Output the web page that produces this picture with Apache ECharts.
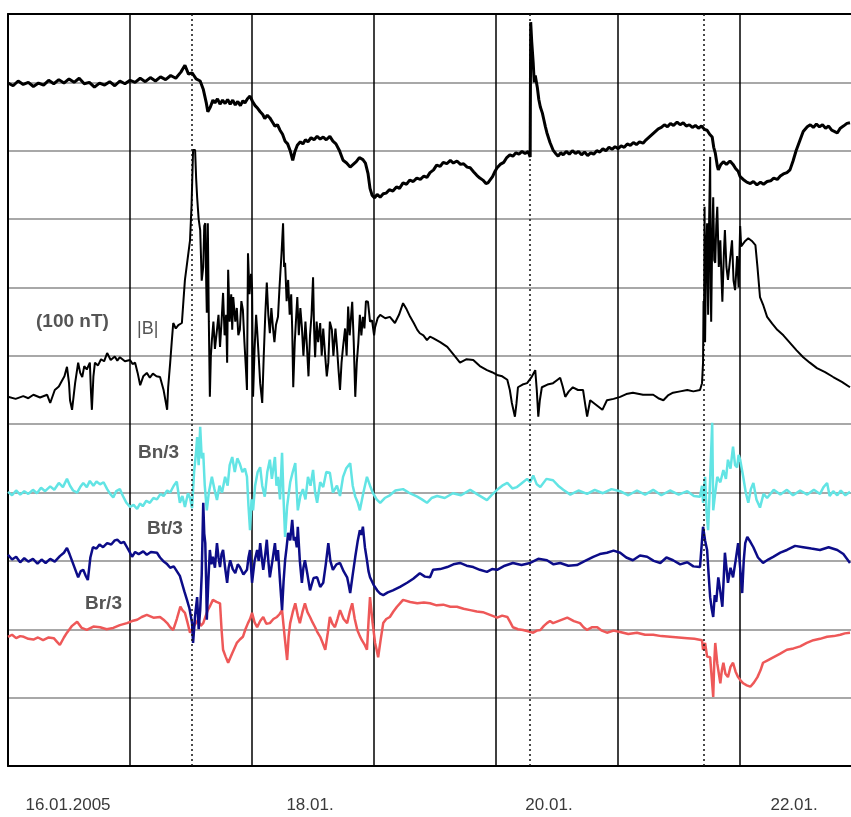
<!DOCTYPE html>
<html>
<head>
<meta charset="utf-8">
<script src="https://cdn.jsdelivr.net/npm/echarts@6/dist/echarts.min.js"></script>
<style>
html,body{margin:0;padding:0;background:#fff;}
#chart{width:851px;height:817px;}
</style>
</head>
<body>
<div id="chart"></div>
<script>
// x: hours since 16.01.2005 00:00 ; y: grid divisions (0 = bottom frame, 11 = top frame)
const dayLabels = ['16.01.2005', '18.01.', '20.01.', '22.01.'];
const dayLabelHours = [11.8, 59.4, 106.4, 154.6];
const eventHours = [36.2, 102.7, 136.9];

const topTrace = [[0,9.99],[1,9.95],[2,10.02],[3,9.97],[4,10.0],[5,9.94],[6,9.99],[7,9.96],[8,10.03],[9,9.98],[10,10.04],[11,9.99],[12,10.05],[13,10.0],[14,10.06],[15,9.98],[16,10.0],[17,9.93],[18,9.99],[19,9.96],[20,10.01],[21,9.95],[22,10.02],[23,9.98],[24,10.03],[25,10.0],[26,10.06],[27,10.01],[28,10.07],[29,10.02],[30,10.08],[31,10.04],[32,10.1],[33,10.06],[34,10.15],[34.8,10.25],[35.5,10.12],[36.2,10.14],[37,10.05],[37.8,10.02],[38.4,9.9],[39.0,9.7],[39.3,9.57],[39.8,9.64],[40.3,9.74],[40.7,9.7],[41.2,9.76],[41.7,9.68],[42.2,9.74],[42.7,9.69],[43.2,9.75],[43.7,9.68],[44.2,9.74],[44.7,9.67],[45.2,9.72],[45.7,9.66],[46.2,9.73],[46.6,9.70],[47.1,9.76],[47.6,9.80],[48.1,9.72],[48.6,9.66],[49.1,9.62],[49.6,9.57],[50.1,9.53],[50.5,9.47],[51.0,9.52],[51.5,9.48],[52.0,9.42],[52.5,9.36],[53.0,9.38],[53.5,9.3],[54.0,9.24],[54.5,9.14],[55.0,9.1],[55.5,9.0],[56.0,8.86],[56.4,8.98],[56.9,9.08],[57.5,9.13],[58,9.1],[58.5,9.16],[59,9.13],[59.6,9.19],[60.2,9.16],[60.8,9.21],[61.4,9.17],[62,9.2],[62.6,9.16],[63.3,9.21],[63.9,9.14],[64.5,9.1],[65.2,9.0],[65.9,8.86],[66.6,8.82],[67.3,8.76],[67.9,8.8],[68.5,8.84],[69.1,8.9],[69.8,8.87],[70.3,8.82],[70.8,8.67],[71.2,8.45],[71.6,8.35],[72.1,8.31],[72.6,8.36],[73.2,8.32],[73.8,8.37],[74.4,8.38],[75,8.43],[75.7,8.41],[76.4,8.47],[77,8.45],[77.7,8.53],[78.4,8.51],[79,8.57],[79.7,8.55],[80.4,8.6],[81.1,8.58],[81.8,8.63],[82.4,8.61],[83,8.68],[83.7,8.72],[84.3,8.79],[85,8.77],[85.6,8.83],[86.3,8.81],[87,8.86],[87.6,8.82],[88.3,8.85],[89,8.8],[89.6,8.81],[90.3,8.76],[90.9,8.75],[91.6,8.69],[92.2,8.64],[92.8,8.6],[93.4,8.57],[94,8.52],[94.4,8.53],[94.9,8.58],[95.3,8.62],[95.8,8.7],[96.2,8.75],[96.8,8.8],[97.5,8.83],[98.1,8.9],[98.7,8.94],[99.3,8.92],[99.9,8.97],[100.5,8.95],[101.1,8.99],[101.7,8.96],[102.3,8.99],[102.7,8.91],[102.8,10.88],[103.0,10.6],[103.3,10.28],[103.5,10.0],[103.7,10.1],[104.1,9.93],[104.4,9.75],[104.7,9.64],[105.1,9.55],[105.4,9.45],[105.7,9.35],[106.0,9.26],[106.6,9.12],[107.2,9.01],[107.7,8.96],[108.2,8.92],[108.7,8.97],[109.2,8.94],[109.8,8.99],[110.4,8.95],[111,9.0],[111.6,8.96],[112.2,8.99],[112.8,8.94],[113.4,8.98],[114,8.93],[114.6,8.97],[115.2,8.95],[115.8,9.0],[116.4,8.98],[117,9.03],[117.6,9.0],[118.2,9.05],[118.8,9.02],[119.4,9.06],[120,9.03],[120.6,9.07],[121.2,9.05],[121.8,9.1],[122.4,9.08],[123,9.12],[123.6,9.09],[124.2,9.13],[124.9,9.11],[125.5,9.16],[126.1,9.2],[126.7,9.24],[127.3,9.28],[127.9,9.32],[128.5,9.34],[129.1,9.38],[129.7,9.35],[130.3,9.4],[130.9,9.37],[131.6,9.42],[132.2,9.38],[132.8,9.41],[133.4,9.36],[134,9.38],[134.6,9.34],[135.2,9.37],[135.8,9.33],[136.4,9.36],[137,9.31],[137.5,9.3],[138,9.24],[138.5,9.2],[138.8,9.05],[139.1,8.97],[139.5,8.78],[139.7,8.72],[140.2,8.8],[140.7,8.84],[141.3,8.8],[142,8.85],[142.6,8.8],[143.1,8.74],[143.6,8.7],[144,8.62],[144.6,8.58],[145.3,8.54],[146,8.52],[146.6,8.55],[147.3,8.5],[148,8.54],[148.6,8.51],[149.3,8.55],[150,8.56],[150.6,8.6],[151.3,8.58],[151.9,8.63],[152.5,8.66],[153.2,8.68],[153.8,8.72],[154.4,8.85],[155,9.0],[155.8,9.16],[156.4,9.28],[157.2,9.35],[157.8,9.38],[158.4,9.34],[159,9.39],[159.6,9.35],[160.2,9.38],[160.8,9.33],[161.4,9.36],[162,9.3],[162.6,9.28],[163.1,9.26],[163.7,9.33],[164.3,9.36],[165,9.4],[165.6,9.41]];

const bMag = [[0,5.40],[1.5,5.37],[3,5.41],[4,5.38],[5,5.43],[6.3,5.39],[7.7,5.43],[8.3,5.31],[9.2,5.50],[10.0,5.55],[10.5,5.62],[11.1,5.7],[11.6,5.84],[12.0,5.6],[12.2,5.35],[12.6,5.21],[13.2,5.6],[13.8,5.90],[14.2,5.75],[14.6,5.69],[15.0,5.85],[15.5,5.8],[16.1,5.90],[16.3,5.5],[16.5,5.21],[16.8,5.7],[17.1,5.90],[17.7,5.86],[18.3,5.95],[18.9,5.92],[19.5,6.04],[20.2,5.94],[21,5.99],[21.5,5.93],[22.0,5.98],[23,5.92],[24.0,5.94],[24.5,5.88],[25.0,5.90],[25.5,5.75],[26.0,5.57],[26.6,5.7],[27.3,5.75],[27.9,5.68],[28.5,5.74],[29.2,5.7],[29.9,5.69],[30.6,5.5],[31.3,5.21],[31.5,5.54],[31.9,5.90],[32.2,6.2],[32.5,6.48],[33.0,6.4],[33.5,6.45],[34.2,6.48],[34.5,6.8],[34.8,7.11],[35.3,7.4],[35.8,7.69],[36.1,8.2],[36.4,9.01],[36.8,9.01],[37.0,8.6],[37.2,8.32],[37.5,8.0],[37.8,7.84],[38.1,7.1],[38.4,7.30],[38.6,7.9],[38.8,7.94],[39.0,7.0],[39.1,6.63],[39.3,7.94],[39.5,6.5],[39.7,5.40],[39.9,6.0],[40.1,6.23],[40.4,6.5],[40.7,6.1],[41.1,6.38],[41.4,6.6],[41.7,6.13],[42.0,6.5],[42.3,6.92],[42.6,6.3],[42.9,6.6],[43.1,5.90],[43.3,7.26],[43.6,6.5],[43.9,6.9],[44.1,6.38],[44.3,6.86],[44.7,6.5],[45.0,6.7],[45.3,6.3],[45.6,6.38],[45.9,6.8],[46.2,6.67],[46.5,6.2],[46.8,5.8],[47.0,5.50],[47.2,7.50],[47.5,6.9],[47.8,7.2],[48.0,7.01],[48.2,5.40],[48.5,6.1],[48.8,6.6],[49.0,6.38],[49.3,6.0],[49.6,5.6],[50.0,5.31],[50.3,6.0],[50.6,6.6],[50.9,7.07],[51.2,6.6],[51.5,6.33],[51.8,6.7],[52.1,6.42],[52.4,6.2],[52.7,6.45],[53.1,6.57],[53.4,7.0],[53.8,7.5],[54.1,7.94],[54.3,7.3],[54.5,7.36],[54.8,6.8],[55.1,7.11],[55.4,6.6],[55.7,6.9],[55.9,6.38],[56.1,5.54],[56.4,6.2],[56.7,6.6],[56.9,6.86],[57.2,6.3],[57.5,6.7],[57.8,6.42],[58.1,6.0],[58.5,6.5],[58.8,6.13],[59.1,5.7],[59.4,6.3],[59.7,6.6],[60.0,7.15],[60.2,6.4],[60.4,5.98],[60.7,6.5],[61.0,6.2],[61.4,6.48],[61.7,6.0],[62.0,6.4],[62.4,5.98],[62.7,5.7],[63.0,5.90],[63.3,6.5],[63.7,6.38],[64.0,6.0],[64.4,6.4],[64.7,6.13],[65.0,5.8],[65.3,5.50],[65.6,5.9],[65.9,6.13],[66.3,6.4],[66.6,6.0],[66.9,6.72],[67.2,6.3],[67.5,6.6],[67.7,6.79],[68.0,6.2],[68.3,5.40],[68.6,5.9],[68.9,6.19],[69.2,6.6],[69.5,6.3],[69.8,6.57],[70.1,6.4],[70.4,6.8],[70.8,6.79],[71.2,6.5],[71.6,6.52],[72.0,6.3],[72.2,6.42],[72.7,6.55],[73.2,6.60],[74.2,6.55],[75.1,6.57],[76.1,6.48],[76.9,6.6],[77.7,6.77],[78.4,6.68],[79.1,6.57],[79.8,6.48],[80.5,6.38],[81.0,6.33],[81.7,6.3],[82.4,6.23],[83.0,6.28],[83.6,6.26],[85,6.2],[86.4,6.13],[87.6,6.02],[88.9,5.90],[90.2,5.95],[91.5,5.94],[92.8,5.85],[94.2,5.79],[95.2,5.76],[96.2,5.72],[97.2,5.7],[98.2,5.65],[98.7,5.5],[99.1,5.31],[99.7,5.11],[100.0,5.3],[100.3,5.54],[101.2,5.58],[102.1,5.60],[102.9,5.68],[103.7,5.79],[104.0,5.5],[104.3,5.11],[104.6,5.35],[105.0,5.54],[106.1,5.58],[107.2,5.60],[107.9,5.64],[108.6,5.68],[109.1,5.55],[109.6,5.40],[110.3,5.48],[111.1,5.54],[112.1,5.5],[113.1,5.50],[113.5,5.3],[113.9,5.11],[114.5,5.35],[115.7,5.28],[116.9,5.21],[117.8,5.35],[119.1,5.37],[120.4,5.40],[121.6,5.44],[122.9,5.46],[124.9,5.43],[126.9,5.43],[127.9,5.38],[128.9,5.35],[129.8,5.42],[130.8,5.46],[132.2,5.48],[133.6,5.50],[134.8,5.48],[136.1,5.50],[136.5,5.6],[136.7,5.90],[136.8,6.8],[136.9,6.52],[137.0,8.18],[137.1,6.2],[137.3,7.5],[137.5,7.94],[137.7,6.6],[137.9,8.0],[138.1,8.91],[138.2,7.0],[138.3,6.5],[138.5,7.7],[138.7,8.32],[138.9,7.4],[139.1,7.36],[139.3,7.9],[139.5,8.18],[139.8,7.3],[140.1,7.69],[140.3,7.2],[140.5,6.79],[140.8,7.5],[141.0,7.84],[141.3,7.3],[141.6,7.11],[142.0,7.4],[142.4,7.69],[142.7,7.1],[143.0,6.96],[143.2,7.2],[143.4,7.46],[143.7,7.0],[144.0,7.9],[144.2,7.6],[144.4,7.59],[145.0,7.68],[145.6,7.72],[146.3,7.68],[147.0,7.62],[147.4,7.3],[147.9,6.86],[148.5,6.75],[149.3,6.57],[150.3,6.47],[151.3,6.38],[152.5,6.3],[153.8,6.19],[155.1,6.08],[156.4,5.98],[157.7,5.9],[159.1,5.82],[160.7,5.76],[162.3,5.69],[164,5.62],[165.6,5.54]];

const bn3 = [[0,4.01],[0.8,3.96],[1.6,4.03],[2.4,3.97],[3.2,4.02],[4,3.98],[4.9,4.04],[5.7,3.99],[6.5,4.07],[7.3,4.02],[8.3,4.09],[9.1,4.04],[10,4.14],[10.8,4.08],[11.6,4.2],[12.2,4.1],[12.8,4.03],[13.6,4.0],[14.2,4.08],[14.8,4.14],[15.5,4.08],[16.1,4.17],[16.8,4.1],[17.4,4.16],[18.1,4.12],[18.8,4.15],[19.5,4.05],[20.1,3.98],[20.7,3.93],[21.3,4.02],[22.0,4.05],[22.6,3.95],[23.3,3.85],[24.0,3.79],[24.7,3.82],[25.4,3.76],[26.0,3.84],[26.5,3.8],[27.2,3.88],[27.9,3.85],[28.6,3.92],[29.3,3.9],[30,3.98],[30.6,3.95],[31.3,4.03],[31.9,4.0],[32.6,4.1],[33.2,4.16],[33.6,3.95],[33.8,3.85],[34.3,3.95],[34.8,3.79],[35.4,3.99],[35.8,3.92],[36.2,3.77],[36.6,4.3],[37.0,4.6],[37.2,4.81],[37.5,4.4],[37.8,4.96],[38.1,4.5],[38.4,4.58],[38.7,4.1],[39.1,3.74],[39.5,4.0],[40.1,4.23],[40.6,4.05],[41.1,3.89],[41.6,4.1],[42.1,4.0],[42.7,4.23],[43.2,4.1],[43.6,4.4],[44.1,4.52],[44.6,4.3],[45.1,4.5],[45.6,4.42],[46.1,4.3],[46.6,4.35],[47.0,4.23],[47.3,3.8],[47.6,3.45],[47.9,3.9],[48.2,3.74],[48.6,4.1],[49.1,4.3],[49.6,4.37],[50.0,4.1],[50.5,3.94],[51.0,4.3],[51.5,4.48],[51.9,4.2],[52.5,4.52],[52.8,4.1],[53.1,4.23],[53.5,3.9],[53.9,4.58],[54.2,3.9],[54.5,3.35],[54.9,3.8],[55.5,4.15],[56.0,4.3],[56.5,4.43],[56.8,4.0],[57.0,3.74],[57.5,3.95],[58.0,4.05],[58.5,3.9],[59.0,4.23],[59.5,4.1],[60.0,4.33],[60.4,4.0],[60.8,3.85],[61.4,4.15],[62.0,4.08],[62.6,4.3],[63.3,4.29],[63.9,4.0],[64.7,4.1],[65.3,3.95],[65.9,4.23],[66.5,4.35],[67.3,4.43],[67.8,4.1],[68.3,3.94],[68.8,3.85],[69.2,3.74],[69.9,4.0],[70.6,4.23],[71.2,4.1],[71.8,3.99],[72.5,3.9],[73.2,3.85],[74.1,3.92],[75.1,3.96],[76.2,4.03],[77.7,4.05],[78.8,4.0],[80.5,3.94],[81.4,3.9],[82.4,3.85],[83.3,3.92],[84.4,3.95],[85.9,3.92],[87.5,3.99],[89.1,3.96],[90.9,4.04],[92.4,3.97],[94.2,3.89],[95.2,3.97],[96.2,4.04],[97.2,4.1],[98.2,4.14],[99.2,4.06],[100.1,4.08],[101.1,4.14],[102.1,4.2],[102.7,4.15],[103.3,4.25],[104.0,4.12],[104.7,4.08],[105.9,4.2],[107.2,4.18],[108.2,4.1],[109.2,4.04],[110.6,3.97],[112.2,4.03],[113.9,3.98],[115.4,4.04],[117.0,3.99],[118.7,4.05],[120.4,4.02],[122,3.96],[123.7,4.03],[125.3,3.97],[126.9,4.04],[128.5,3.96],[130.2,4.03],[131.9,3.97],[133.6,4.02],[134.9,3.95],[136.1,3.94],[136.5,4.1],[136.7,3.85],[137.1,4.23],[137.4,3.7],[137.7,3.45],[138.1,4.2],[138.5,5.02],[138.7,3.74],[139.1,4.0],[139.5,4.23],[140.1,4.15],[140.7,4.33],[141.2,4.2],[141.6,4.48],[142.1,4.35],[142.6,4.67],[143.0,4.4],[143.4,4.37],[143.7,4.55],[144.0,4.48],[144.6,4.23],[145.1,4.0],[145.6,3.85],[146.1,4.05],[146.6,4.14],[147.2,3.9],[147.9,3.78],[148.6,3.98],[149.3,3.92],[150.6,4.04],[151.9,3.97],[153.2,4.04],[154.4,3.96],[155.8,4.03],[157.2,3.97],[158.5,4.04],[159.7,3.98],[160.4,4.08],[161.1,4.14],[161.6,3.95],[162.3,4.02],[163.1,3.96],[163.8,4.03],[164.7,3.96],[165.6,4.01]];

const bt3 = [[0,3.09],[0.8,3.02],[1.6,3.06],[2.4,2.98],[3.2,3.04],[4,2.99],[4.9,3.03],[5.8,2.96],[6.6,3.02],[7.4,2.97],[8.3,3.03],[9.2,2.99],[10.2,3.07],[11.0,3.12],[11.6,3.19],[12.1,3.1],[12.6,3.0],[13.2,2.88],[13.8,2.76],[14.3,2.85],[14.8,2.87],[15.3,2.78],[15.7,2.72],[16.2,3.05],[16.7,3.20],[17.4,3.18],[18,3.24],[18.7,3.2],[19.5,3.26],[20.3,3.24],[21,3.3],[21.5,3.31],[22.2,3.26],[22.8,3.28],[23.4,3.2],[24.0,3.12],[24.4,3.06],[25,3.13],[25.7,3.1],[26.6,3.14],[27.3,3.09],[28.1,3.13],[29.3,3.12],[29.9,3.05],[30.5,3.0],[31.2,2.96],[31.9,2.9],[32.6,2.92],[33.2,2.85],[33.8,2.78],[34.2,2.68],[34.7,2.55],[35.2,2.43],[35.7,2.3],[36.2,2.09],[36.4,1.80],[36.8,2.2],[37.2,2.47],[37.5,2.0],[37.8,2.28],[38.1,2.8],[38.4,3.85],[38.6,3.4],[38.8,3.26],[39.0,2.6],[39.1,2.14],[39.4,2.7],[39.7,3.16],[40.0,2.95],[40.3,3.06],[40.7,2.9],[41.1,3.26],[41.4,3.05],[41.7,2.91],[42.0,3.1],[42.3,3.16],[42.7,2.9],[43.1,2.68],[43.4,2.9],[43.7,3.01],[44.2,2.88],[44.7,2.82],[45.2,2.95],[45.6,2.91],[46.3,2.8],[47.0,2.87],[47.3,3.05],[47.6,3.16],[47.8,2.9],[48.0,2.68],[48.5,3.0],[49.0,3.16],[49.3,3.0],[49.6,3.26],[49.9,3.05],[50.2,2.87],[50.6,3.1],[50.9,3.31],[51.2,3.0],[51.5,2.76],[52.0,3.0],[52.5,3.26],[52.8,3.0],[53.1,3.16],[53.5,2.7],[53.9,2.28],[54.2,2.7],[54.5,3.01],[54.8,3.2],[55.1,3.41],[55.5,3.3],[55.9,3.60],[56.2,3.3],[56.5,3.35],[56.8,3.2],[57.0,3.50],[57.4,3.0],[57.8,2.68],[58.1,2.9],[58.4,3.01],[58.9,2.8],[59.4,2.57],[60.1,2.75],[60.8,2.76],[61.4,2.62],[62.0,2.68],[62.5,2.95],[63.0,3.26],[63.4,3.0],[63.9,2.87],[64.6,2.95],[65.3,2.97],[66.0,2.85],[66.7,2.76],[67.0,2.65],[67.3,2.53],[67.8,2.8],[68.3,3.06],[68.8,3.3],[69.2,3.45],[69.5,3.38],[69.8,3.50],[70.2,3.2],[70.6,3.01],[70.9,2.85],[71.2,2.76],[71.9,2.65],[72.6,2.57],[73.2,2.52],[73.8,2.50],[74.7,2.54],[75.7,2.57],[77.1,2.62],[78.5,2.68],[79.7,2.74],[81.0,2.82],[82,2.77],[83.0,2.76],[83.6,2.87],[85,2.88],[86.4,2.91],[87.6,2.95],[88.9,2.97],[90.2,2.93],[91.5,2.91],[92.8,2.87],[94.2,2.84],[95.2,2.88],[96.2,2.87],[97.7,2.93],[99.3,2.97],[101,2.94],[102.7,2.97],[104.3,3.03],[106.0,3.01],[107.3,2.95],[108.6,2.97],[110.2,2.93],[111.9,2.94],[113.5,3.0],[115.1,3.06],[116.4,3.1],[117.8,3.12],[119.1,3.15],[120.4,3.12],[121.6,3.05],[122.9,3.01],[124.3,3.08],[125.7,3.06],[127,3.0],[128.3,2.97],[129.5,3.05],[130.8,3.01],[132.2,2.95],[133.6,2.98],[134.8,2.92],[136.1,2.91],[136.5,3.3],[136.7,3.50],[137.1,3.3],[137.5,3.16],[137.8,2.8],[138.1,2.47],[138.4,2.3],[138.7,2.18],[139.0,2.5],[139.3,2.4],[139.7,2.76],[140.1,2.55],[140.5,2.33],[140.8,2.8],[141.0,3.12],[141.3,2.9],[141.6,2.68],[142.1,2.9],[142.6,2.76],[143.1,3.0],[143.6,3.26],[144.0,2.9],[144.4,2.53],[144.7,3.0],[145.0,3.26],[145.4,3.35],[146.0,3.28],[146.6,3.20],[147.5,3.05],[148.5,2.97],[149.5,3.02],[150.5,3.06],[151.9,3.12],[153.2,3.16],[154.8,3.22],[156.4,3.20],[158,3.18],[159.7,3.16],[161.4,3.2],[163.1,3.16],[164.3,3.1],[165.6,2.97]];

const br3 = [[0,1.89],[0.8,1.92],[1.6,1.87],[2.4,1.9],[3.1,1.89],[4,1.86],[5,1.85],[5.9,1.88],[6.9,1.84],[8,1.88],[9,1.87],[9.6,1.82],[10.2,1.77],[11.0,1.88],[11.6,1.95],[12.6,2.05],[13.6,2.11],[14.5,2.02],[15.5,1.99],[16.8,2.04],[18.1,2.03],[19.4,2.0],[20.7,2.02],[22,2.06],[23.4,2.09],[24.4,2.12],[25.4,2.14],[26.3,2.18],[27.3,2.21],[28.6,2.17],[29.9,2.18],[30.6,2.14],[31.3,2.09],[31.9,2.03],[32.5,1.99],[33.2,2.15],[33.9,2.33],[34.3,2.28],[34.8,2.24],[35.3,2.1],[35.8,1.95],[36.6,2.05],[37.4,2.14],[37.9,2.05],[38.4,2.09],[38.9,2.2],[39.3,2.28],[39.8,2.35],[40.3,2.43],[41,2.4],[41.7,2.38],[42.0,2.0],[42.3,1.70],[42.8,1.6],[43.3,1.51],[44.1,1.65],[45.0,1.80],[45.6,1.85],[46.2,1.89],[46.7,2.0],[47.2,2.09],[47.6,2.15],[48.0,2.24],[48.5,2.1],[49.0,2.03],[49.6,2.12],[50.2,2.18],[50.8,2.08],[51.5,2.09],[52.2,2.15],[52.9,2.18],[53.4,2.22],[53.9,2.28],[54.4,1.9],[54.9,1.55],[55.2,1.9],[55.5,2.09],[56.0,2.25],[56.5,2.38],[57.0,2.2],[57.4,2.09],[57.9,2.25],[58.4,2.38],[58.9,2.25],[59.4,2.18],[59.9,2.1],[60.4,2.03],[60.9,1.95],[61.4,1.89],[61.9,1.8],[62.4,1.70],[62.9,1.95],[63.3,2.18],[63.8,2.08],[64.3,2.03],[64.8,2.15],[65.3,2.28],[66.0,2.15],[66.7,2.09],[67.2,2.25],[67.7,2.38],[68.2,2.15],[68.7,1.99],[69.2,1.9],[69.6,1.84],[70.1,1.78],[70.6,1.70],[70.9,2.1],[71.2,2.47],[71.7,2.1],[72.2,1.80],[72.5,1.7],[72.8,1.59],[73.3,1.85],[73.8,2.09],[74.4,2.15],[75.1,2.18],[75.8,2.26],[76.5,2.33],[77.1,2.38],[77.7,2.43],[79.1,2.4],[80.5,2.38],[81.8,2.39],[83.0,2.38],[84.3,2.35],[85.6,2.36],[87,2.33],[88.3,2.33],[89.6,2.3],[90.9,2.28],[92.2,2.26],[93.4,2.25],[94.8,2.21],[96.2,2.17],[97.2,2.2],[98.2,2.18],[98.8,2.1],[99.3,2.03],[100.3,2.0],[101.3,1.99],[102.3,1.97],[103.3,1.95],[104,1.98],[104.7,1.99],[105.4,2.05],[106.0,2.09],[106.6,2.12],[107.2,2.09],[108.6,2.13],[110.0,2.17],[111.3,2.12],[112.5,2.09],[113.2,2.03],[113.9,1.99],[114.9,2.03],[115.9,2.03],[116.8,1.98],[117.8,1.95],[119.1,1.98],[120.4,1.96],[122,1.93],[123.7,1.95],[125.3,1.92],[126.9,1.92],[128.5,1.9],[130.2,1.89],[131.9,1.88],[133.6,1.87],[135,1.86],[136.5,1.84],[136.7,1.70],[137.1,1.8],[137.5,1.6],[138.1,1.59],[138.4,1.3],[138.7,1.01],[138.9,1.5],[139.1,1.80],[139.5,1.5],[140.1,1.21],[140.4,1.4],[140.7,1.51],[141.1,1.35],[141.6,1.30],[142.1,1.45],[142.6,1.51],[143.1,1.38],[143.6,1.30],[144.1,1.25],[144.6,1.21],[145.3,1.18],[146.0,1.16],[146.7,1.22],[147.4,1.30],[148,1.4],[148.5,1.51],[149.5,1.55],[150.5,1.59],[151.8,1.64],[153.2,1.70],[154.5,1.72],[155.8,1.75],[157.1,1.8],[158.4,1.84],[159.7,1.86],[161.1,1.89],[162.4,1.9],[163.7,1.92],[164.6,1.94],[165.6,1.95]];

const chart = echarts.init(document.getElementById('chart'), null, {renderer: 'canvas'});
const fontFam = 'Liberation Sans, Arial, sans-serif';
const option = {
  animation: false,
  backgroundColor: '#fff',
  grid: {left: 8, right: 0, top: 14, bottom: 51, containLabel: false},
  xAxis: [{
    type: 'value', min: 0, max: 165.8, interval: 24, position: 'bottom',
    axisLine: {show: true, onZero: false, lineStyle: {color: '#000', width: 2}},
    axisTick: {show: false},
    axisLabel: {
      show: true, customValues: dayLabelHours, margin: 31,
      formatter: function (v) { const i = dayLabelHours.indexOf(v); return i >= 0 ? dayLabels[i] : ''; },
      fontFamily: fontFam, fontSize: 17, color: '#3a3a3a'
    },
    splitLine: {show: true, showMaxLine: false, lineStyle: {color: '#000', width: 1.5}}
  }, {
    type: 'value', min: 0, max: 165.8, interval: 24, position: 'top',
    axisLine: {show: true, onZero: false, lineStyle: {color: '#000', width: 2}},
    axisTick: {show: false}, axisLabel: {show: false}, splitLine: {show: false}
  }],
  yAxis: {
    type: 'value', min: 0, max: 11, interval: 1,
    axisLine: {show: true, onZero: false, lineStyle: {color: '#000', width: 2}},
    axisTick: {show: false}, axisLabel: {show: false},
    splitLine: {show: true, showMinLine: false, showMaxLine: false, lineStyle: {color: '#a8a8a8', width: 2}}
  },
  series: [
    {name: 'Bn/3', type: 'line', data: bn3, showSymbol: false, lineStyle: {color: '#62e4e4', width: 2.5}, z: 2,
      markLine: {silent: true, symbol: 'none', label: {show: false},
        lineStyle: {color: '#111', width: 1.5, type: [2, 3]},
        data: eventHours.map(h => ({xAxis: h}))}},
    {name: 'Br/3', type: 'line', data: br3, showSymbol: false, lineStyle: {color: '#ee5858', width: 2.5}, z: 3},
    {name: 'Bt/3', type: 'line', data: bt3, showSymbol: false, lineStyle: {color: '#0c0c88', width: 2.5}, z: 4},
    {name: '|B|', type: 'line', data: bMag, showSymbol: false, lineStyle: {color: '#000', width: 2}, z: 5},
    {name: 'top', type: 'line', data: topTrace, showSymbol: false, lineStyle: {color: '#000', width: 3}, z: 5}
  ],
  graphic: [
    {type: 'text', left: 36, top: 312, style: {text: '(100 nT)', fontSize: 19, fontWeight: 'bold', fill: '#555', fontFamily: fontFam}},
    {type: 'text', left: 137, top: 320, style: {text: '|B|', fontSize: 18, fill: '#555', fontFamily: fontFam}},
    {type: 'text', left: 138, top: 443, style: {text: 'Bn/3', fontSize: 19, fontWeight: 'bold', fill: '#555', fontFamily: fontFam}},
    {type: 'text', left: 147, top: 519, style: {text: 'Bt/3', fontSize: 19, fontWeight: 'bold', fill: '#555', fontFamily: fontFam}},
    {type: 'text', left: 85, top: 594, style: {text: 'Br/3', fontSize: 19, fontWeight: 'bold', fill: '#555', fontFamily: fontFam}}
  ]
};
chart.setOption(option);
</script>
</body>
</html>
